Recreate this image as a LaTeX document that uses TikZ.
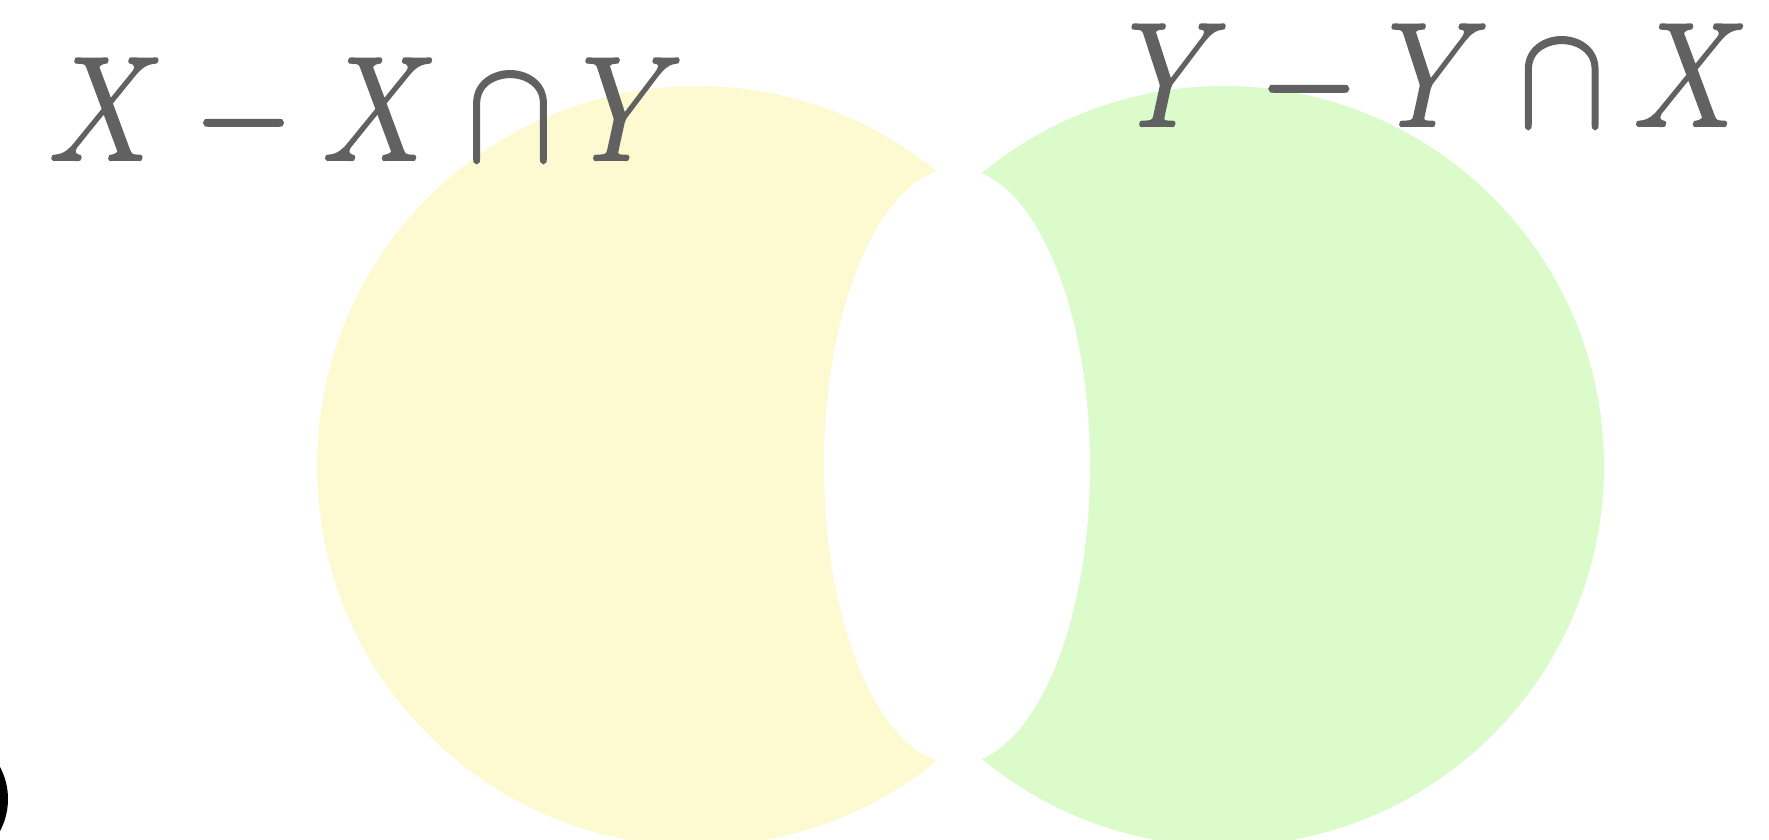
\documentclass[tikz,border=0pt]{standalone}
\usepackage{amsmath}
\usepackage{tikz}
\definecolor{cyellow}{HTML}{FDF9D0}
\definecolor{cgreen}{HTML}{DBFBCB}
\definecolor{cgray}{HTML}{616161}
% slightly heavier glyphs
\newcommand{\heavytext}[1]{\special{pdf:code 2 Tr 0.35 w}#1\special{pdf:code 0 Tr}}

\begin{document}
\begin{tikzpicture}[x=0.01cm, y=-0.01cm,
  setlabel/.style={font=\Huge, xscale=1.48, yscale=1.7, inner sep=0pt, text=cgray, anchor=base west}]
  \useasboundingbox (0,0) rectangle (1769,839);
  \clip (0,0) rectangle (1769,839);
  % the two sets, with the common part cut out
  \fill[cyellow] (697,466) circle (380);
  \fill[cgreen] (1224,466) circle (380);
  \fill[white] (957,466) ellipse (133 and 298);
  \fill[black] (-60,799) circle (68);
  \node[setlabel] (xonly) at (48,160) {\heavytext{$X - X \cap Y$}};
  \node[setlabel] (yonly) at (1127,126) {\heavytext{$Y - Y \cap X$}};
\end{tikzpicture}
\end{document}
